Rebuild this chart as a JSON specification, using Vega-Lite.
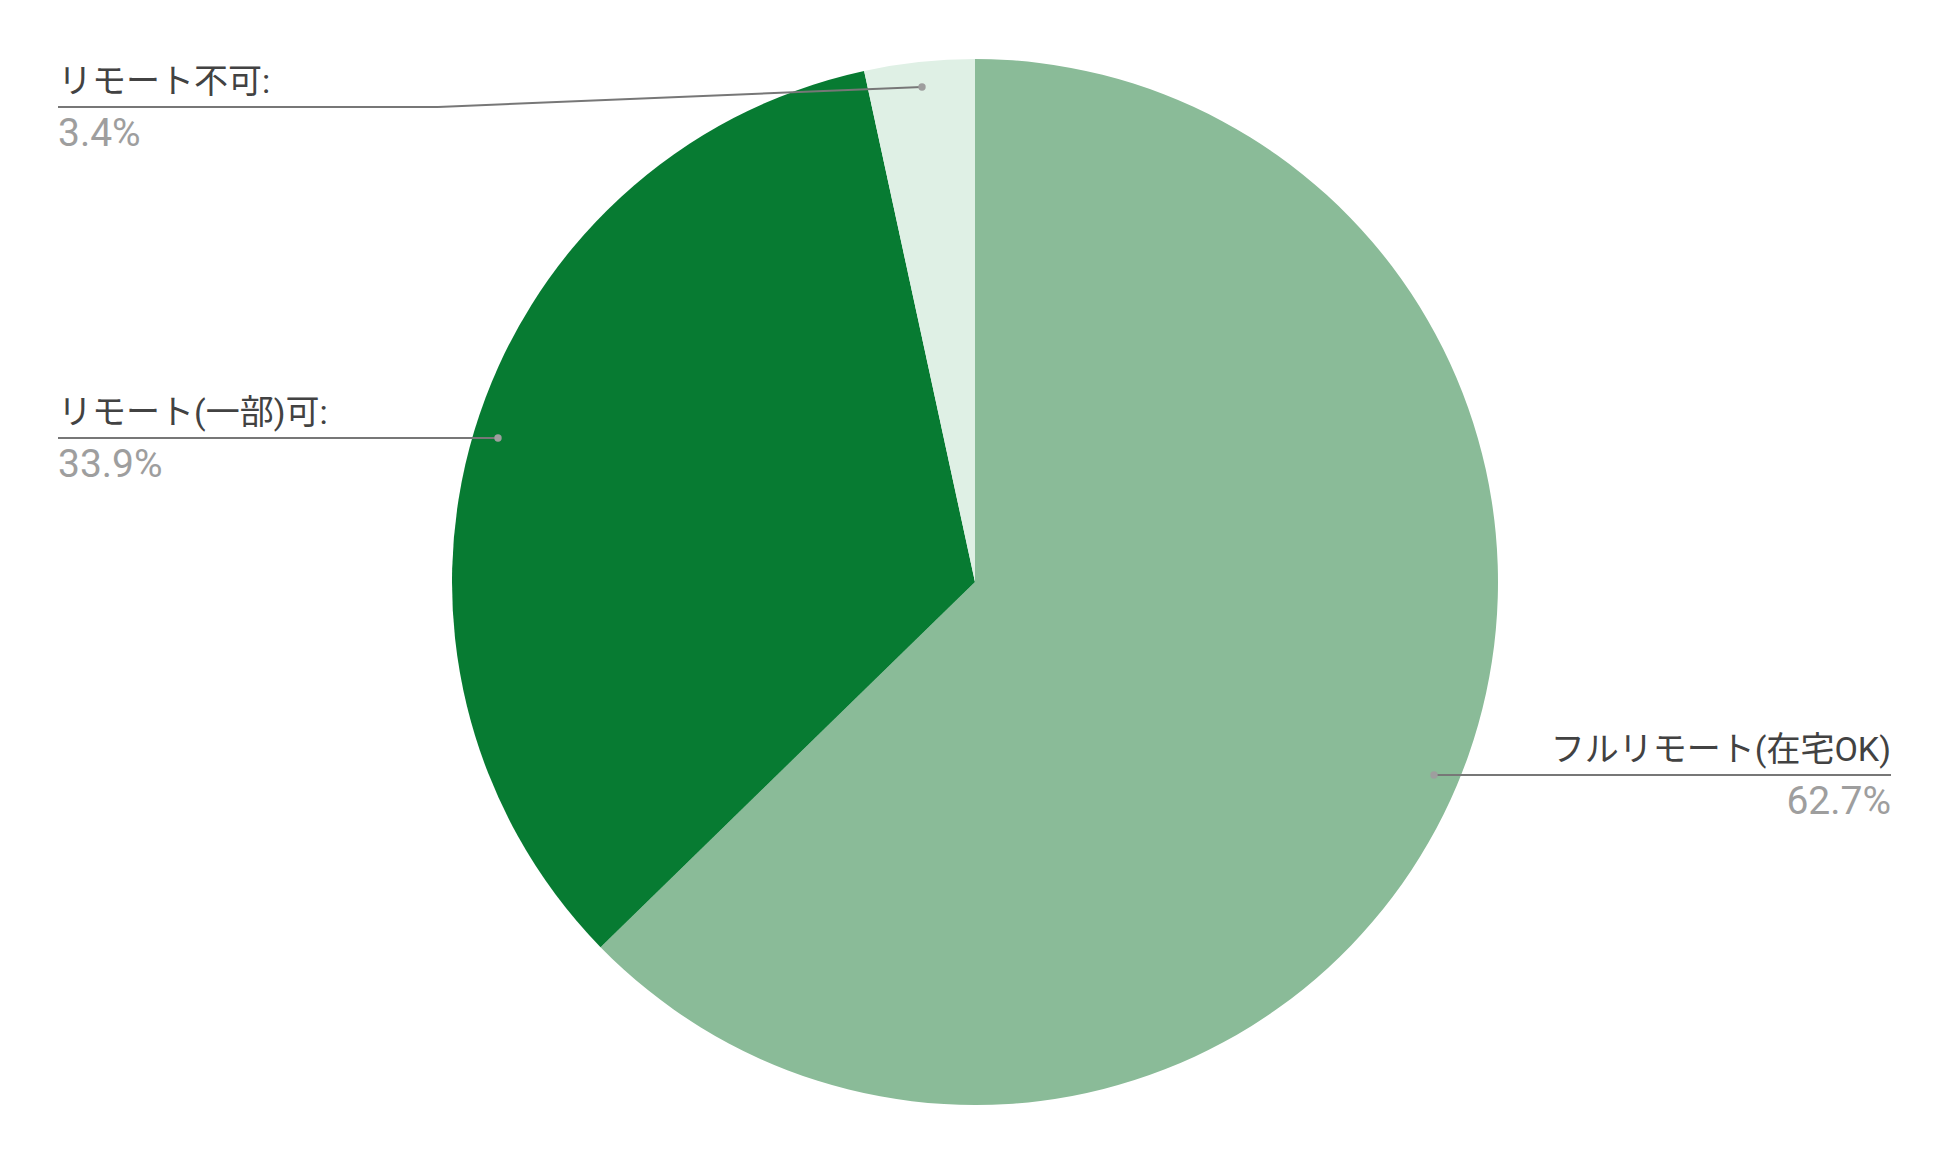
{
  "$schema": "https://vega.github.io/schema/vega-lite/v6.json",
  "width": 1950,
  "height": 1164,
  "autosize": {"type": "fit", "contains": "padding"},
  "padding": 0,
  "background": "white",
  "config": {"view": {"stroke": null}, "font": "Roboto, 'Noto Sans CJK JP', sans-serif"},
  "data": {
    "values": [
      {"category": "フルリモート(在宅OK)", "label": "フルリモート(在宅OK)", "value": 0.627, "order": 1},
      {"category": "リモート(一部)可", "label": "リモート(一部)可:", "value": 0.339, "order": 2},
      {"category": "リモート不可", "label": "リモート不可:", "value": 0.034, "order": 3}
    ]
  },
  "layer": [
    {
      "mark": {"type": "arc", "radius": 523, "strokeWidth": 0},
      "encoding": {
        "theta": {"field": "value", "type": "quantitative", "stack": true},
        "order": {"field": "order", "type": "quantitative"},
        "color": {
          "field": "category",
          "type": "nominal",
          "scale": {"domain": ["フルリモート(在宅OK)", "リモート(一部)可", "リモート不可"], "range": ["#8abb98", "#077b32", "#dff0e5"]},
          "legend": null
        }
      }
    },
    {
      "transform": [{"filter": "datum.order != 3"}],
      "mark": {"type": "rule", "color": "#777777", "strokeWidth": 2},
      "encoding": {
        "x": {"field": "value", "type": "quantitative", "axis": null, "scale": {"type": "linear", "domain": [0.034, 0.1, 0.339, 0.627, 1, 2, 3], "range": [922, 438, 498, 1434, 1891, 58, 58], "nice": false, "zero": false}},
        "x2": {"field": "order"},
        "y": {"field": "order", "type": "quantitative", "axis": null, "scale": {"type": "linear", "domain": [0.034, 0.1, 0.339, 0.627, 1, 2, 3], "range": [87, 107, 438, 775, 775, 438, 107], "nice": false, "zero": false}}
      }
    },
    {
      "transform": [{"filter": "datum.order == 3"}],
      "mark": {"type": "rule", "color": "#777777", "strokeWidth": 2},
      "encoding": {
        "x": {"field": "order", "type": "quantitative", "axis": null, "scale": {"type": "linear", "domain": [0.034, 0.1, 0.339, 0.627, 1, 2, 3], "range": [922, 438, 498, 1434, 1891, 58, 58], "nice": false, "zero": false}},
        "x2": {"datum": 0.1},
        "y": {"field": "order", "type": "quantitative", "axis": null, "scale": {"type": "linear", "domain": [0.034, 0.1, 0.339, 0.627, 1, 2, 3], "range": [87, 107, 438, 775, 775, 438, 107], "nice": false, "zero": false}}
      }
    },
    {
      "transform": [{"filter": "datum.order == 3"}],
      "mark": {"type": "rule", "color": "#777777", "strokeWidth": 2},
      "encoding": {
        "x": {"field": "value", "type": "quantitative", "axis": null, "scale": {"type": "linear", "domain": [0.034, 0.1, 0.339, 0.627, 1, 2, 3], "range": [922, 438, 498, 1434, 1891, 58, 58], "nice": false, "zero": false}},
        "x2": {"datum": 0.1},
        "y": {"field": "value", "type": "quantitative", "axis": null, "scale": {"type": "linear", "domain": [0.034, 0.1, 0.339, 0.627, 1, 2, 3], "range": [87, 107, 438, 775, 775, 438, 107], "nice": false, "zero": false}},
        "y2": {"datum": 0.1}
      }
    },
    {
      "mark": {"type": "point", "filled": true, "size": 55, "color": "#9e9e9e", "opacity": 1},
      "encoding": {
        "x": {"field": "value", "type": "quantitative", "axis": null, "scale": {"type": "linear", "domain": [0.034, 0.1, 0.339, 0.627, 1, 2, 3], "range": [922, 438, 498, 1434, 1891, 58, 58], "nice": false, "zero": false}},
        "y": {"field": "value", "type": "quantitative", "axis": null, "scale": {"type": "linear", "domain": [0.034, 0.1, 0.339, 0.627, 1, 2, 3], "range": [87, 107, 438, 775, 775, 438, 107], "nice": false, "zero": false}}
      }
    },
    {
      "transform": [{"filter": "datum.order != 1"}],
      "mark": {"type": "text", "align": "left", "baseline": "alphabetic", "dy": -14, "fontSize": 34, "color": "#424242"},
      "encoding": {
        "x": {"field": "order", "type": "quantitative", "axis": null, "scale": {"type": "linear", "domain": [0.034, 0.1, 0.339, 0.627, 1, 2, 3], "range": [922, 438, 498, 1434, 1891, 58, 58], "nice": false, "zero": false}},
        "y": {"field": "order", "type": "quantitative", "axis": null, "scale": {"type": "linear", "domain": [0.034, 0.1, 0.339, 0.627, 1, 2, 3], "range": [87, 107, 438, 775, 775, 438, 107], "nice": false, "zero": false}},
        "text": {"field": "label", "type": "nominal"}
      }
    },
    {
      "transform": [{"filter": "datum.order != 1"}],
      "mark": {"type": "text", "align": "left", "baseline": "alphabetic", "dy": 39, "fontSize": 39, "color": "#9e9e9e"},
      "encoding": {
        "x": {"field": "order", "type": "quantitative", "axis": null, "scale": {"type": "linear", "domain": [0.034, 0.1, 0.339, 0.627, 1, 2, 3], "range": [922, 438, 498, 1434, 1891, 58, 58], "nice": false, "zero": false}},
        "y": {"field": "order", "type": "quantitative", "axis": null, "scale": {"type": "linear", "domain": [0.034, 0.1, 0.339, 0.627, 1, 2, 3], "range": [87, 107, 438, 775, 775, 438, 107], "nice": false, "zero": false}},
        "text": {"field": "value", "type": "quantitative", "format": ".1%"}
      }
    },
    {
      "transform": [{"filter": "datum.order == 1"}],
      "mark": {"type": "text", "align": "right", "baseline": "alphabetic", "dy": -14, "fontSize": 34, "color": "#424242"},
      "encoding": {
        "x": {"field": "order", "type": "quantitative", "axis": null, "scale": {"type": "linear", "domain": [0.034, 0.1, 0.339, 0.627, 1, 2, 3], "range": [922, 438, 498, 1434, 1891, 58, 58], "nice": false, "zero": false}},
        "y": {"field": "order", "type": "quantitative", "axis": null, "scale": {"type": "linear", "domain": [0.034, 0.1, 0.339, 0.627, 1, 2, 3], "range": [87, 107, 438, 775, 775, 438, 107], "nice": false, "zero": false}},
        "text": {"field": "label", "type": "nominal"}
      }
    },
    {
      "transform": [{"filter": "datum.order == 1"}],
      "mark": {"type": "text", "align": "right", "baseline": "alphabetic", "dy": 39, "fontSize": 39, "color": "#9e9e9e"},
      "encoding": {
        "x": {"field": "order", "type": "quantitative", "axis": null, "scale": {"type": "linear", "domain": [0.034, 0.1, 0.339, 0.627, 1, 2, 3], "range": [922, 438, 498, 1434, 1891, 58, 58], "nice": false, "zero": false}},
        "y": {"field": "order", "type": "quantitative", "axis": null, "scale": {"type": "linear", "domain": [0.034, 0.1, 0.339, 0.627, 1, 2, 3], "range": [87, 107, 438, 775, 775, 438, 107], "nice": false, "zero": false}},
        "text": {"field": "value", "type": "quantitative", "format": ".1%"}
      }
    }
  ]
}
